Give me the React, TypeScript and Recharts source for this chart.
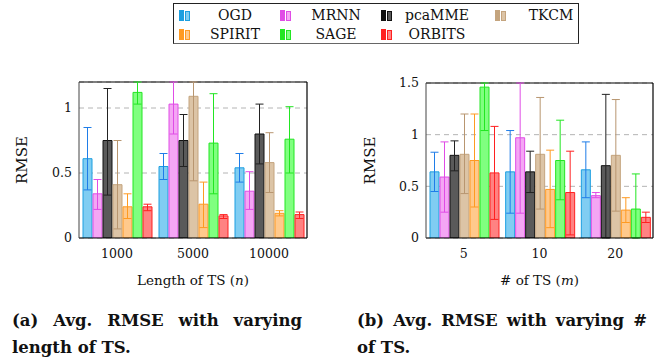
import { BarChart, Bar, XAxis, YAxis, CartesianGrid, ErrorBar } from 'recharts';

const methods = ['OGD', 'MRNN', 'pcaMME', 'TKCM', 'SPIRIT', 'SAGE', 'ORBITS'];
const legendOrder = ['OGD', 'MRNN', 'pcaMME', 'TKCM', 'SPIRIT', 'SAGE', 'ORBITS'];

const fills = ['#80cdf2', '#f4a6f4', '#5a5a5a', '#dcc4a6', '#ffc98c', '#80ff80', '#ff8282'];
const strokes = ['#1c9fe0', '#e04ce6', '#111111', '#c4a47e', '#ff9a22', '#22e622', '#ff2020'];
const errColors = ['#1f7de8', '#e04ce6', '#222222', '#b89670', '#ff9a22', '#22e622', '#ff2020'];

// panel (a): length of TS  (upper bounds cut at the top of the frame where the picture clips them)
const lengthCats = ['1000', '5000', '10000'];
const lenMean = [
  [0.61, 0.34, 0.75, 0.41, 0.24, 1.12, 0.24],
  [0.55, 1.03, 0.75, 1.09, 0.26, 0.73, 0.17],
  [0.54, 0.36, 0.80, 0.58, 0.19, 0.76, 0.18],
];
const lenLow = [
  [0.37, 0.22, 0.33, 0.07, 0.15, 1.03, 0.21],
  [0.45, 0.80, 0.55, 0.44, 0.08, 0.34, 0.15],
  [0.43, 0.22, 0.57, 0.35, 0.17, 0.50, 0.15],
];
const lenHigh = [
  [0.85, 0.45, 1.15, 0.75, 0.34, 1.20, 0.26],
  [0.65, 1.20, 0.95, 1.20, 0.43, 1.11, 0.18],
  [0.65, 0.51, 1.03, 0.81, 0.21, 1.01, 0.20],
];

// panel (b): number of TS
const countCats = ['5', '10', '20'];
const cntMean = [
  [0.64, 0.59, 0.80, 0.81, 0.75, 1.46, 0.63],
  [0.64, 0.97, 0.64, 0.81, 0.47, 0.75, 0.44],
  [0.66, 0.41, 0.70, 0.80, 0.27, 0.28, 0.20],
];
const cntLow = [
  [0.45, 0.25, 0.65, 0.43, 0.30, 1.04, 0.18],
  [0.24, 0.24, 0.44, 0.28, 0.10, 0.37, 0.03],
  [0.39, 0.39, 0.00, 0.26, 0.15, 0.00, 0.15],
];
const cntHigh = [
  [0.83, 0.93, 0.94, 1.20, 1.20, 1.50, 1.08],
  [1.04, 1.50, 0.84, 1.36, 0.85, 1.14, 0.84],
  [0.93, 0.44, 1.39, 1.34, 0.39, 0.62, 0.25],
];

const lenTicks = [0, 0.5, 1];
const cntTicks = [0, 0.5, 1, 1.5];

const serif = '"DejaVu Serif", serif';

function buildRows(cats: string[], means: number[][], lows: number[][], highs: number[][]) {
  return cats.map((c, i) => {
    const row: any = { cat: c };
    methods.forEach((m, j) => {
      row[m] = means[i][j];
      row[m + '_err'] = [means[i][j] - lows[i][j], highs[i][j] - means[i][j]];
    });
    return row;
  });
}

interface PanelProps {
  rows: any[];
  max: number;
  ticks: number[];
  xLabel: string;
  xVar: string;
  left: number;
  width: number;
  yAxisWidth: number;
  rightMargin: number;
  top: number;
  yLabelX: number;
}

function Panel({ rows, max, ticks, xLabel, xVar, left, width, yAxisWidth, rightMargin, top, yLabelX }: PanelProps) {
  return (
    <div style={{ position: 'absolute', left, top: 0 }}>
      <BarChart
        width={width}
        height={300}
        data={rows}
        margin={{ top, right: rightMargin, left: 0, bottom: 12 }}
        barCategoryGap={4}
        barGap={1}
      >
        <CartesianGrid vertical={false} stroke="#b4b4b4" strokeDasharray="5 4" />
        {/* plot frame: top and right edges */}
        <CartesianGrid
          stroke="#000"
          strokeWidth={1.2}
          horizontalCoordinatesGenerator={(p: any) => [p.offset.top]}
          verticalCoordinatesGenerator={(p: any) => [p.offset.left + p.offset.width]}
        />
        <XAxis
          dataKey="cat"
          height={50}
          tickLine={false}
          tickSize={0}
          tickMargin={11}
          axisLine={{ stroke: '#000' }}
          tick={{ fill: '#111', fontSize: 12.5, fontFamily: serif }}
          label={{
            content: (p: any) => (
              <text
                x={p.viewBox.x + p.viewBox.width / 2}
                y={p.viewBox.y + 47}
                textAnchor="middle"
                fill="#111"
                fontSize={13.5}
                fontFamily={serif}
              >
                {xLabel} (<tspan fontStyle="italic">{xVar}</tspan>)
              </text>
            ),
          }}
        />
        <YAxis
          domain={[0, max]}
          ticks={ticks}
          allowDataOverflow
          width={yAxisWidth}
          tickLine={false}
          tickSize={0}
          tickMargin={7}
          axisLine={{ stroke: '#444' }}
          tick={{ fill: '#111', fontSize: 12.5, fontFamily: serif }}
          label={{
            content: (p: any) => (
              <text
                x={yLabelX}
                y={p.viewBox.y + p.viewBox.height / 2}
                transform={`rotate(-90 ${yLabelX} ${p.viewBox.y + p.viewBox.height / 2})`}
                textAnchor="middle"
                dominantBaseline="central"
                fill="#111"
                fontSize={15}
                fontFamily={serif}
              >
                RMSE
              </text>
            ),
          }}
        />
        {methods.map((m, j) => (
          <Bar key={m} dataKey={m} fill={fills[j]} stroke={strokes[j]} strokeWidth={1} isAnimationActive={false}>
            <ErrorBar dataKey={m + '_err'} width={4} stroke={errColors[j]} strokeWidth={1} />
          </Bar>
        ))}
      </BarChart>
    </div>
  );
}

function Legend() {
  const colLeft = [5, 106, 207, 321];
  return (
    <div
      style={{
        position: 'absolute',
        left: 173,
        top: 3,
        width: 404,
        height: 39,
        border: '1px solid #222',
        borderBottom: '1.5px solid #666',
        fontFamily: serif,
        fontSize: 14,
        color: '#111',
      }}
    >
      {legendOrder.map((m, k) => {
        const j = methods.indexOf(m);
        const col = k % 4;
        const row = Math.floor(k / 4);
        return (
          <div key={m} style={{ position: 'absolute', left: colLeft[col], top: 1 + row * 19, height: 18, width: 110 }}>
            <span style={{ position: 'absolute', left: 0, top: 5, width: 3, height: 9, background: strokes[j], border: `1px solid ${strokes[j]}` }} />
            <span style={{ position: 'absolute', left: 6, top: 6, width: 3, height: 8, background: fills[j], border: `1px solid ${strokes[j]}` }} />
            <span style={{ position: 'absolute', left: 16, width: 80, textAlign: 'center', lineHeight: '20px' }}>{m}</span>
          </div>
        );
      })}
    </div>
  );
}

const captionStyle: any = {
  position: 'absolute',
  top: 307,
  width: 290,
  fontFamily: serif,
  fontWeight: 'bold',
  fontSize: 16.5,
  lineHeight: '27px',
  textAlign: 'justify',
  color: '#111',
};

export default function App() {
  const lenRows = buildRows(lengthCats, lenMean, lenLow, lenHigh);
  const cntRows = buildRows(countCats, cntMean, cntLow, cntHigh);
  return (
    <div style={{ position: 'absolute', left: 0, top: 0, width: 670, height: 360, background: '#fff', overflow: 'hidden' }}>
      <Panel rows={lenRows} max={1.2} ticks={lenTicks} xLabel="Length of TS" xVar="n" left={0} width={320} yAxisWidth={79} rightMargin={13} top={82} yLabelX={22} />
      <Panel rows={cntRows} max={1.5} ticks={cntTicks} xLabel="# of TS" xVar="m" left={330} width={340} yAxisWidth={96} rightMargin={17} top={83} yLabelX={40} />
      <Legend />
      <div style={{ ...captionStyle, left: 12 }}>(a) Avg. RMSE with varying length of TS.</div>
      <div style={{ ...captionStyle, left: 357 }}>(b) Avg. RMSE with varying # of TS.</div>
    </div>
  );
}
